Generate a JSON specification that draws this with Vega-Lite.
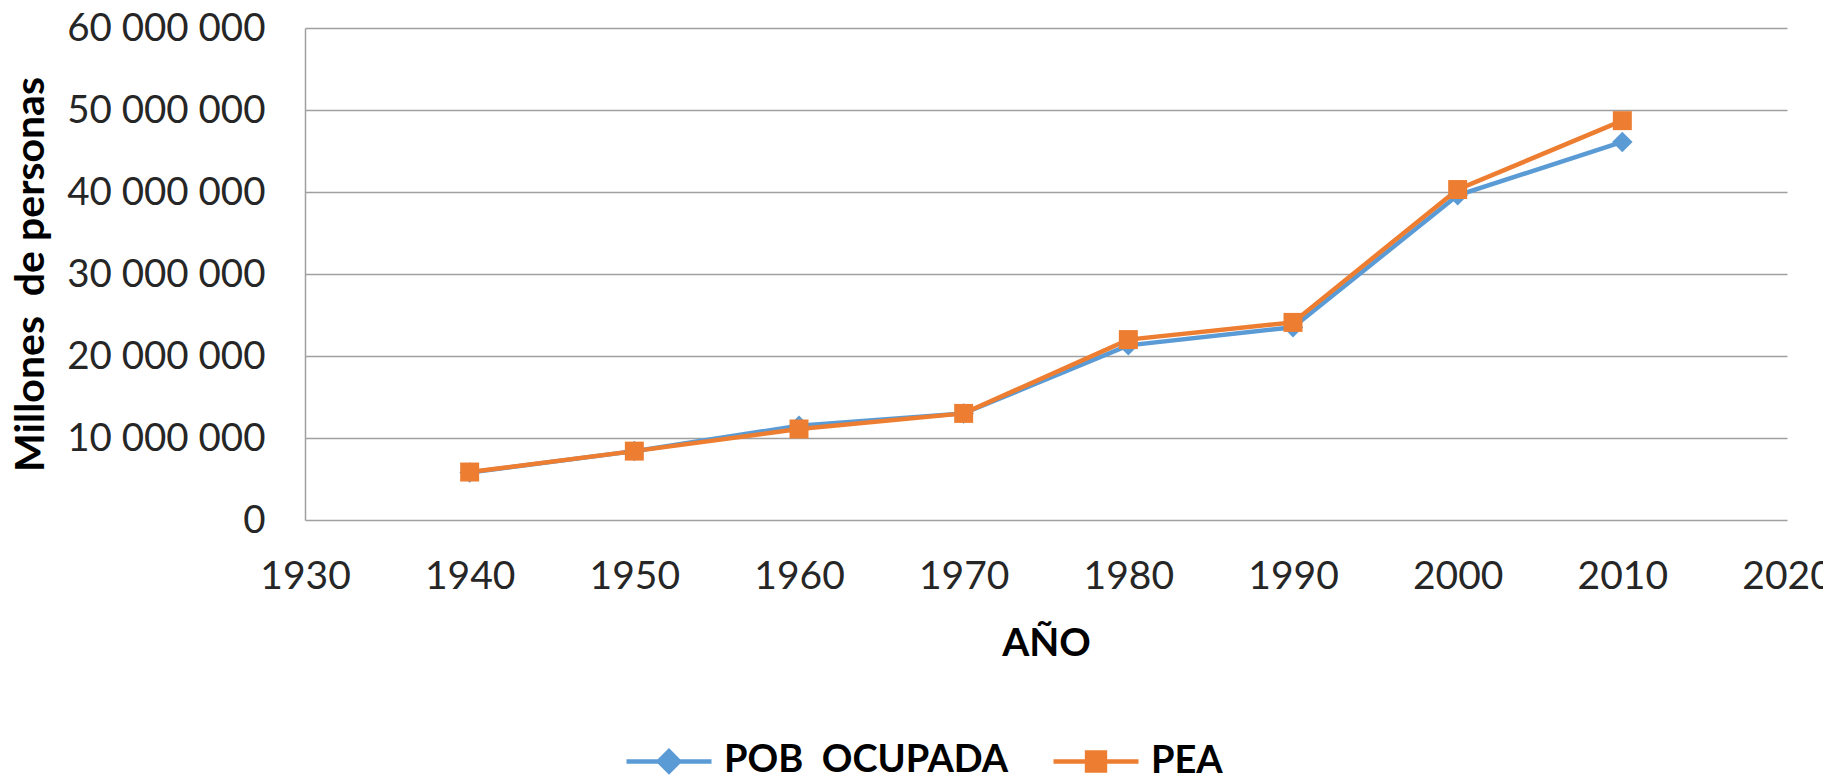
{
  "$schema": "https://vega.github.io/schema/vega-lite/v6.json",
  "width": 1482,
  "height": 492,
  "autosize": {"type": "none"},
  "padding": {"left": 305, "top": 28, "right": 36, "bottom": 259},
  "background": "white",
  "config": {"view": {"stroke": null}, "font": "Lato"},
  "data": {
    "values": [
      {"year": 1940, "series": "POB\u00a0 OCUPADA", "value": 5800000},
      {"year": 1950, "series": "POB\u00a0 OCUPADA", "value": 8400000},
      {"year": 1960, "series": "POB\u00a0 OCUPADA", "value": 11500000},
      {"year": 1970, "series": "POB\u00a0 OCUPADA", "value": 13000000},
      {"year": 1980, "series": "POB\u00a0 OCUPADA", "value": 21300000},
      {"year": 1990, "series": "POB\u00a0 OCUPADA", "value": 23500000},
      {"year": 2000, "series": "POB\u00a0 OCUPADA", "value": 39600000},
      {"year": 2010, "series": "POB\u00a0 OCUPADA", "value": 46100000},
      {"year": 1940, "series": "PEA", "value": 5850000},
      {"year": 1950, "series": "PEA", "value": 8400000},
      {"year": 1960, "series": "PEA", "value": 11100000},
      {"year": 1970, "series": "PEA", "value": 13000000},
      {"year": 1980, "series": "PEA", "value": 22000000},
      {"year": 1990, "series": "PEA", "value": 24100000},
      {"year": 2000, "series": "PEA", "value": 40300000},
      {"year": 2010, "series": "PEA", "value": 48700000}
    ]
  },
  "encoding": {
    "x": {
      "field": "year", "type": "quantitative",
      "scale": {"domain": [1930, 2020], "nice": false, "zero": false},
      "axis": {
        "values": [1930, 1940, 1950, 1960, 1970, 1980, 1990, 2000, 2010, 2020],
        "format": "d", "title": "AÑO", "grid": false, "domain": false, "ticks": false,
        "labelFont": "Lato", "labelFontSize": 39, "labelColor": "#262626", "labelPadding": 37,
        "labelFlush": false, "labelOverlap": false, "labelLimit": 0,
        "titleFont": "Lato", "titleFontSize": 39, "titleFontWeight": "bold", "titleColor": "#000000",
        "titleY": 123, "titleBaseline": "middle"
      }
    },
    "y": {
      "field": "value", "type": "quantitative",
      "scale": {"domain": [0, 60000000], "nice": false},
      "axis": {
        "values": [0, 10000000, 20000000, 30000000, 40000000, 50000000, 60000000],
        "labelExpr": "replace(format(datum.value, ',d'), /,/g, ' ')",
        "title": "Millones\u00a0 de personas",
        "grid": true, "gridColor": "#A0A0A0", "gridWidth": 1.5,
        "domain": true, "domainColor": "#A0A0A0", "domainWidth": 1.5, "ticks": false,
        "labelFont": "Lato", "labelFontSize": 38.5, "labelColor": "#262626", "labelPadding": 40,
        "labelOverlap": false, "labelLimit": 0,
        "titleFont": "Lato", "titleFontSize": 41, "titleFontWeight": "bold", "titleColor": "#000000",
        "titleX": -274, "titleY": 246, "titleAngle": 270, "titleAlign": "center", "titleBaseline": "middle", "titleLimit": 0
      }
    }
  },
  "layer": [
    {
      "mark": {"type": "line", "strokeWidth": 4.5},
      "encoding": {
        "color": {
          "field": "series", "type": "nominal",
          "scale": {"domain": ["POB\u00a0 OCUPADA", "PEA"], "range": ["#5B9BD5", "#ED7D31"]},
          "legend": {
            "title": null, "orient": "none", "legendX": 319, "legendY": 688,
            "direction": "horizontal", "columns": 2, "columnPadding": 35,
            "labelFont": "Lato", "labelFontSize": 38, "labelFontWeight": "bold", "labelColor": "#000000",
            "labelLimit": 0, "labelOffset": 10,
            "symbolSize": 7225, "symbolStrokeWidth": 4.5, "symbolType": "M-1,0H1",
            "encode": {
              "symbols": {
                "update": {
                  "shape": {"signal": "datum.value === 'PEA' ? 'M-1,0H1M-0.21,-0.21H0.21V0.21H-0.21Z' : 'M-1,0H1M-0.24,0L0,-0.24L0.24,0L0,0.24Z'"},
                  "stroke": {"signal": "datum.value === 'PEA' ? '#ED7D31' : '#5B9BD5'"},
                  "fill": {"signal": "datum.value === 'PEA' ? '#ED7D31' : '#5B9BD5'"},
                  "strokeWidth": {"value": 4.5},
                  "opacity": {"value": 1},
                  "fillOpacity": {"value": 1},
                  "strokeOpacity": {"value": 1}
                }
              }
            }
          }
        }
      }
    },
    {
      "transform": [{"filter": "datum.series !== 'PEA'"}],
      "mark": {"type": "point", "shape": "diamond", "filled": true, "size": 420, "color": "#5B9BD5", "opacity": 1}
    },
    {
      "transform": [{"filter": "datum.series === 'PEA'"}],
      "mark": {"type": "point", "shape": "square", "filled": true, "size": 360, "color": "#ED7D31", "opacity": 1}
    }
  ]
}
